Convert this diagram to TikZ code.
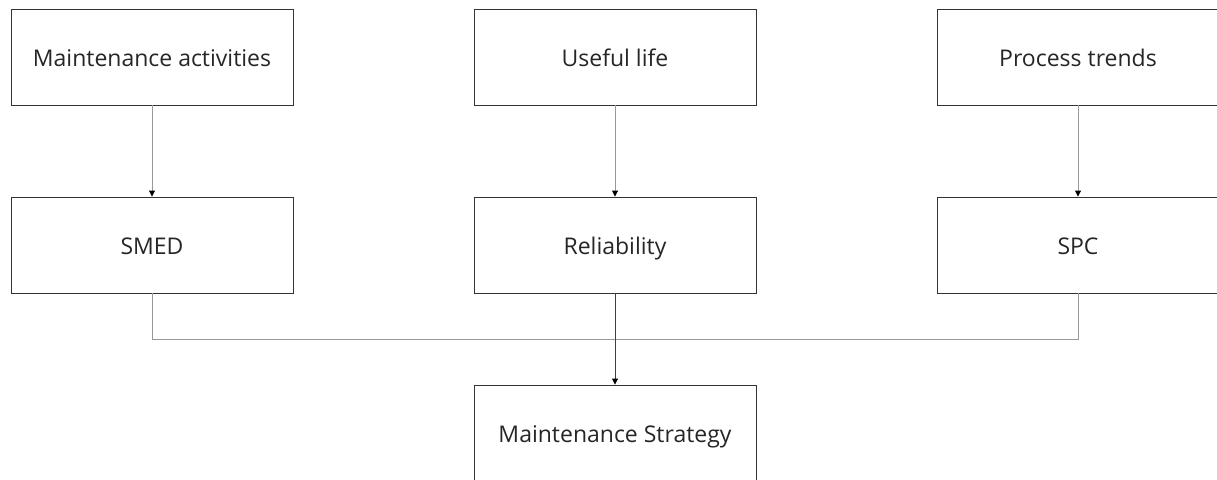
\documentclass[tikz,border=0pt]{standalone}
\usepackage{fontspec}
\setmainfont{Open Sans}
\usetikzlibrary{arrows.meta}

\begin{document}
\begin{tikzpicture}[x=1pt,y=-1pt,
	blok/.style={draw=black!80,line width=0.9pt,minimum width=282pt,minimum height=96pt,inner sep=0pt,text height=18pt,text depth=0pt,font=\fontsize{23}{27}\selectfont,text=black!85},
	lijn/.style={draw=black!40,line width=0.9pt},
	pijl/.style={lijn,-{Triangle[length=6pt,width=6pt,color=black]}}]
	\clip (0,0) rectangle (1217,479);
	\node[blok] (mact) at (152,57) {Maintenance activities};
	\node[blok] (life) at (615,57) {Useful life};
	\node[blok] (proc) at (1078,57) {Process trends};
	\node[blok] (smed) at (152,245) {SMED};
	\node[blok] (reli) at (615,245) {Reliability};
	\node[blok] (spc) at (1078,245) {SPC};
	\node[blok] (strat) at (615,433) {Maintenance Strategy};
	\coordinate (m1) at (152,339);
	\coordinate (m2) at (1078,339);
	\draw[pijl] (mact) -- (smed);
	\draw[pijl] (life) -- (reli);
	\draw[pijl] (proc) -- (spc);
	\draw[lijn] (smed.south) -- (m1) -- (m2) -- (spc.south);
	\draw[pijl,draw=black!75] (reli) -- (strat);
\end{tikzpicture}
\end{document}
